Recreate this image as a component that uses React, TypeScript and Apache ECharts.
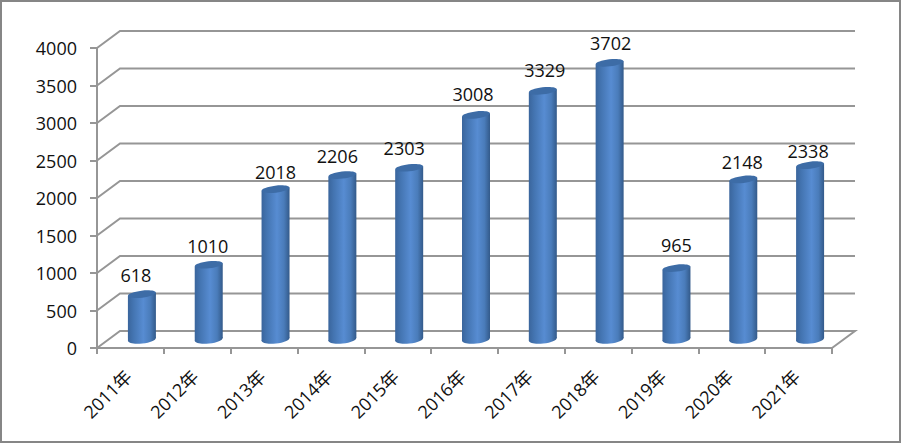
import React, { useEffect, useRef } from "react";
import * as echarts from "echarts";

const categories = ["2011年", "2012年", "2013年", "2014年", "2015年", "2016年", "2017年", "2018年", "2019年", "2020年", "2021年"];
const values = [618, 1010, 2018, 2206, 2303, 3008, 3329, 3702, 965, 2148, 2338];
const yTicks = [0, 500, 1000, 1500, 2000, 2500, 3000, 3500, 4000];
const labelNudgeX = [-6, -1, 0, -5, -5, -3, 2, 1, 0, -1, -2];
const labelNudgeY = [-1, -1, 1, -1, -2, -3, -3, -2, -5, 1, 4];

const DEPTH_X = 23;
const DEPTH_Y = 17;
const BAR_W = 28;
const TILT = 0.115;
const AXIS_COLOR = "#969696";
const FONT = '"Open Sans", "Noto Sans CJK SC", sans-serif';

export default function App() {
  const ref = useRef<HTMLDivElement>(null);
  useEffect(() => {
    document.body.style.margin = "0";
    document.body.style.overflow = "hidden";
    const chart = echarts.init(ref.current!, undefined, { renderer: "svg" });
    const barFill = new echarts.graphic.LinearGradient(0, 0, 1, 0, [
      { offset: 0, color: "#3a659c" },
      { offset: 0.2, color: "#4475b2" },
      { offset: 0.55, color: "#578cd2" },
      { offset: 0.8, color: "#4a7cba" },
      { offset: 1, color: "#335a8a" },
    ]);
    chart.setOption({
      animation: false,
      graphic: [
        {
          type: "rect",
          z: -10,
          shape: { x: 1, y: 1, width: 899, height: 441 },
          style: { fill: "#ffffff", stroke: "#868686", lineWidth: 2 },
        },
      ],
      grid: { left: 97, right: 70, top: 48, bottom: 96 },
      xAxis: {
        type: "category",
        data: categories,
        axisLine: { lineStyle: { color: AXIS_COLOR, width: 2 } },
        axisTick: { show: true, length: 6, lineStyle: { color: AXIS_COLOR, width: 2 } },
        axisLabel: { rotate: 45, margin: 23, padding: [0, 3, 0, 0], fontSize: 18, color: "#111111", fontFamily: FONT, interval: 0 },
      },
      yAxis: {
        type: "value",
        min: 0,
        max: 4000,
        interval: 500,
        axisLine: { show: true, lineStyle: { color: AXIS_COLOR, width: 2 } },
        axisTick: { show: true, length: 7, lineStyle: { color: AXIS_COLOR, width: 2 } },
        splitLine: { show: false },
        axisLabel: { margin: 20, fontSize: 18, color: "#111111", fontFamily: FONT, formatter: (v: number) => String(v) },
      },
      series: [
        {
          type: "custom",
          z: 1,
          silent: true,
          clip: false,
          encode: { x: 0, y: 1 },
          data: yTicks.map((t) => [0, t]),
          renderItem: (_p: any, api: any) => {
            const v = api.value(1);
            const half = api.size([1, 0])[0] / 2;
            const a = api.coord([0, v]);
            const b = api.coord([categories.length - 1, v]);
            const left = a[0] - half;
            const right = b[0] + half;
            const pts: number[][] = [
              [left, a[1]],
              [left + DEPTH_X, a[1] - DEPTH_Y],
              [right + DEPTH_X, a[1] - DEPTH_Y],
            ];
            if (v === 0) pts.push([right, a[1]]);
            return {
              type: "polyline",
              shape: { points: pts },
              style: { fill: "none", stroke: AXIS_COLOR, lineWidth: 2 },
            };
          },
        },
        {
          type: "custom",
          z: 5,
          silent: true,
          clip: false,
          encode: { x: 0, y: 1 },
          data: values.map((v, i) => [i, v]),
          renderItem: (p: any, api: any) => {
            const top = api.coord([api.value(0), api.value(1)]);
            const bottom = api.coord([api.value(0), 0]);
            const cx = top[0] + DEPTH_X / 2;
            const ty = top[1] - DEPTH_Y / 2 + 1;
            const by = bottom[1] - DEPTH_Y / 2;
            const r = BAR_W / 2;
            const dy = r * Math.tan(TILT);
            return {
              type: "group",
              children: [
                {
                  type: "ellipse",
                  x: cx,
                  y: by,
                  rotation: TILT,
                  shape: { cx: 0, cy: 0, rx: r, ry: 4 },
                  style: { fill: barFill },
                },
                {
                  type: "polygon",
                  shape: {
                    points: [
                      [cx - r, ty + dy],
                      [cx + r, ty - dy],
                      [cx + r, by - dy],
                      [cx - r, by + dy],
                    ],
                  },
                  style: { fill: barFill },
                },
                {
                  type: "ellipse",
                  x: cx,
                  y: ty,
                  rotation: TILT,
                  shape: { cx: 0, cy: 0, rx: r, ry: 3.5 },
                  style: { fill: "#3d6ca6" },
                },
                {
                  type: "text",
                  x: cx + labelNudgeX[p.dataIndex],
                  y: ty - 18 + labelNudgeY[p.dataIndex],
                  style: {
                    text: String(api.value(1)),
                    fill: "#111111",
                    font: `18px ${FONT}`,
                    align: "center",
                    verticalAlign: "middle",
                  },
                },
              ],
            };
          },
        },
      ],
    });
    return () => chart.dispose();
  }, []);
  return <div ref={ref} style={{ position: "absolute", left: 0, top: 0, width: 902, height: 444 }} />;
}
